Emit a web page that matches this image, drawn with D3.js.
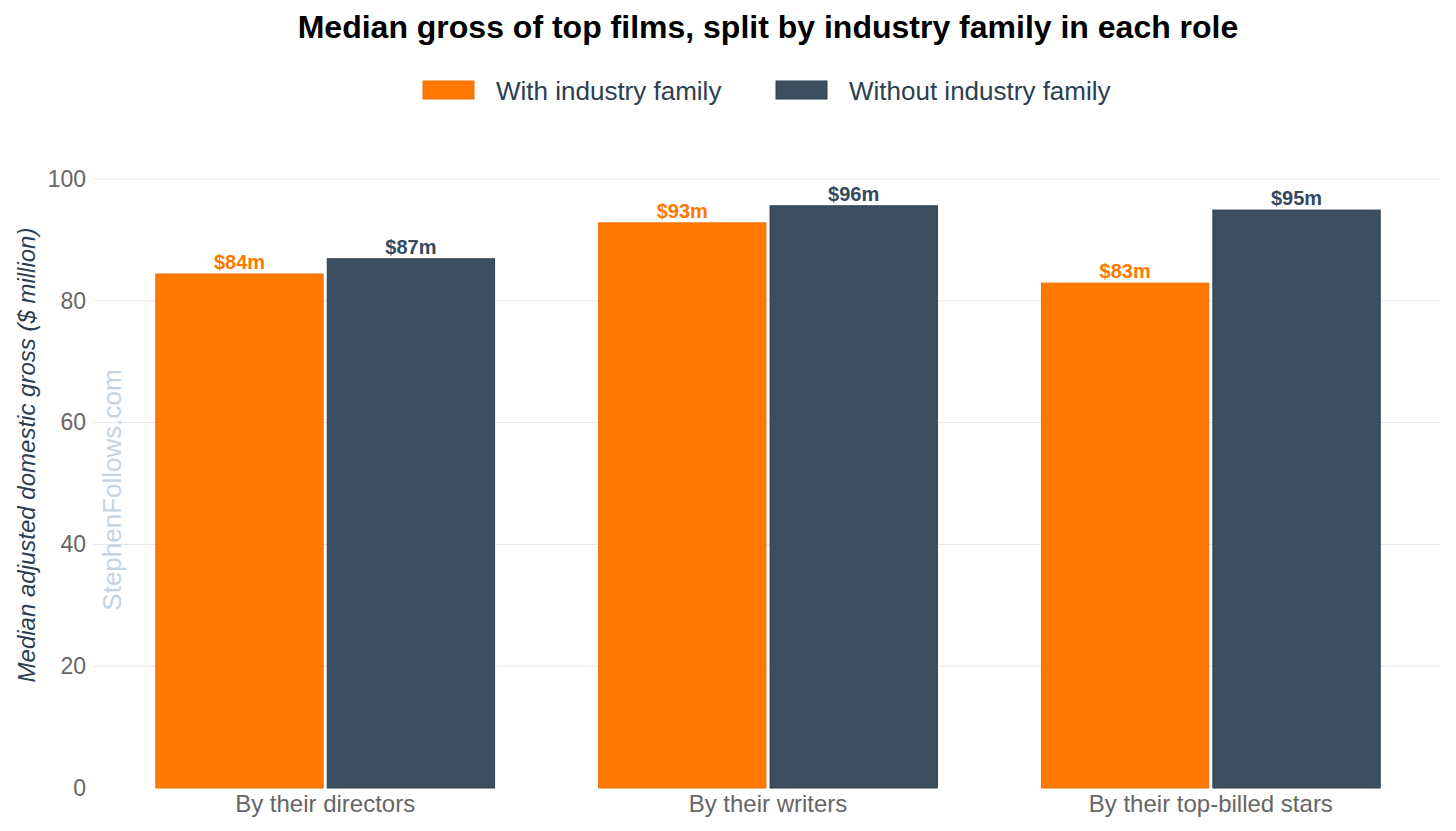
<!DOCTYPE html>
<html>
<head>
<meta charset="utf-8">
<script src="https://cdn.jsdelivr.net/npm/d3@7"></script>
<style>
  body { margin: 0; background: #fff; }
  svg { font-family: "Liberation Sans", Arial, sans-serif; }
</style>
</head>
<body>
<svg class="barchart" width="1456" height="831"></svg>
<script>
// chart data
let roles = ["By their directors", "By their writers", "By their top-billed stars"];
let seriesNames = ["With industry family", "Without industry family"];
let withFamily = [84.4, 92.8, 82.9];
let withoutFamily = [86.9, 95.6, 94.9];
let yTicks = [0, 20, 40, 60, 80, 100];

let colors = ["#ff7800", "#3d4f5e"];
let strokes = ["#f07000", "#2c3e50"];
let labelColors = ["#ff7800", "#34495e"];

let rows = roles.map((r, i) => ({role: r, values: [withFamily[i], withoutFamily[i]]}));

let svg = d3.select("body").select(".barchart");
let margin = {top: 179, right: 24, bottom: 43, left: 104};
let plotWidth = 1456 - margin.left - margin.right;
let plotHeight = 831 - margin.top - margin.bottom;

let xScale = d3.scaleBand()
  .domain(roles)
  .range([0, plotWidth])
  .paddingInner(0.235)
  .paddingOuter(0.117);
let inner = d3.scaleBand()
  .domain([0, 1])
  .range([0, xScale.bandwidth()])
  .paddingInner(0.024);
let yScale = d3.scaleLinear()
  .domain([0, 100])
  .range([plotHeight, 0]);

// title
svg.append("text")
  .attr("x", 768).attr("y", 38)
  .attr("text-anchor", "middle")
  .style("font-size", "32px").style("font-weight", "bold").style("fill", "#000")
  .text("Median gross of top films, split by industry family in each role");

// legend
let legendX = [423, 776];
seriesNames.forEach((name, i) => {
  let g = svg.append("g").attr("transform", translate(legendX[i], 81));
  g.append("rect").attr("width", 51).attr("height", 18)
    .attr("fill", colors[i]).attr("stroke", strokes[i]).attr("stroke-width", 1);
  g.append("text").attr("x", 73).attr("y", 19)
    .style("font-size", "26px").style("fill", "#2c3e50")
    .text(name);
});

let plot = svg.append("g").attr("id", "plot")
  .attr("transform", translate(margin.left, margin.top));

// gridlines
plot.append("g").selectAll("line")
  .data(yTicks.filter(d => d > 0))
  .join("line")
  .attr("x1", -10).attr("x2", plotWidth + 8)
  .attr("y1", d => yScale(d)).attr("y2", d => yScale(d))
  .attr("stroke", "#e6e6e6").attr("stroke-width", 1);

// y axis
let yAxis = d3.axisLeft(yScale).tickValues(yTicks).tickSize(0).tickPadding(18);
let yGroup = plot.append("g").attr("id", "y-axis").call(yAxis);
yGroup.select(".domain").remove();
yGroup.selectAll("text").style("font-size", "23px").style("fill", "#666")
  .style("font-family", "Liberation Sans, Arial, sans-serif");

// watermark
svg.append("text")
  .attr("transform", "translate(121,490) rotate(-90)")
  .attr("text-anchor", "middle")
  .style("font-size", "26px").style("fill", "#c5d3e0")
  .text("StephenFollows.com");

// bars
let groups = plot.selectAll(".group")
  .data(rows)
  .join("g")
  .attr("class", "group")
  .attr("transform", d => translate(xScale(d.role), 0));

groups.selectAll("rect")
  .data(d => d.values.map((v, i) => ({v: v, i: i})))
  .join("rect")
  .attr("x", d => inner(d.i))
  .attr("width", inner.bandwidth())
  .attr("y", d => yScale(d.v))
  .attr("height", d => plotHeight - yScale(d.v))
  .attr("fill", d => colors[d.i])
  .attr("stroke", d => strokes[d.i])
  .attr("stroke-width", 1);

groups.selectAll(".val")
  .data(d => d.values.map((v, i) => ({v: v, i: i})))
  .join("text")
  .attr("class", "val")
  .attr("x", d => inner(d.i) + inner.bandwidth() / 2)
  .attr("y", d => yScale(d.v) - 5)
  .attr("text-anchor", "middle")
  .style("font-size", "20px").style("font-weight", "bold")
  .style("fill", d => labelColors[d.i])
  .text(d => "$" + Math.round(d.v) + "m");

// x axis
let xAxis = d3.axisBottom(xScale).tickSize(0).tickPadding(7);
let xGroup = plot.append("g").attr("id", "x-axis")
  .attr("transform", translate(0, plotHeight)).call(xAxis);
xGroup.select(".domain").remove();
xGroup.selectAll("text").style("font-size", "24px").style("fill", "#666")
  .style("font-family", "Liberation Sans, Arial, sans-serif");

// y label
svg.append("text")
  .attr("transform", "translate(35,455) rotate(-90)")
  .attr("text-anchor", "middle")
  .style("font-size", "24px").style("font-style", "italic").style("fill", "#2c3e50")
  .text("Median adjusted domestic gross ($ million)");

function translate(x, y) {
  return 'translate(' + x + ',' + y + ')';
}
</script>
</body>
</html>
